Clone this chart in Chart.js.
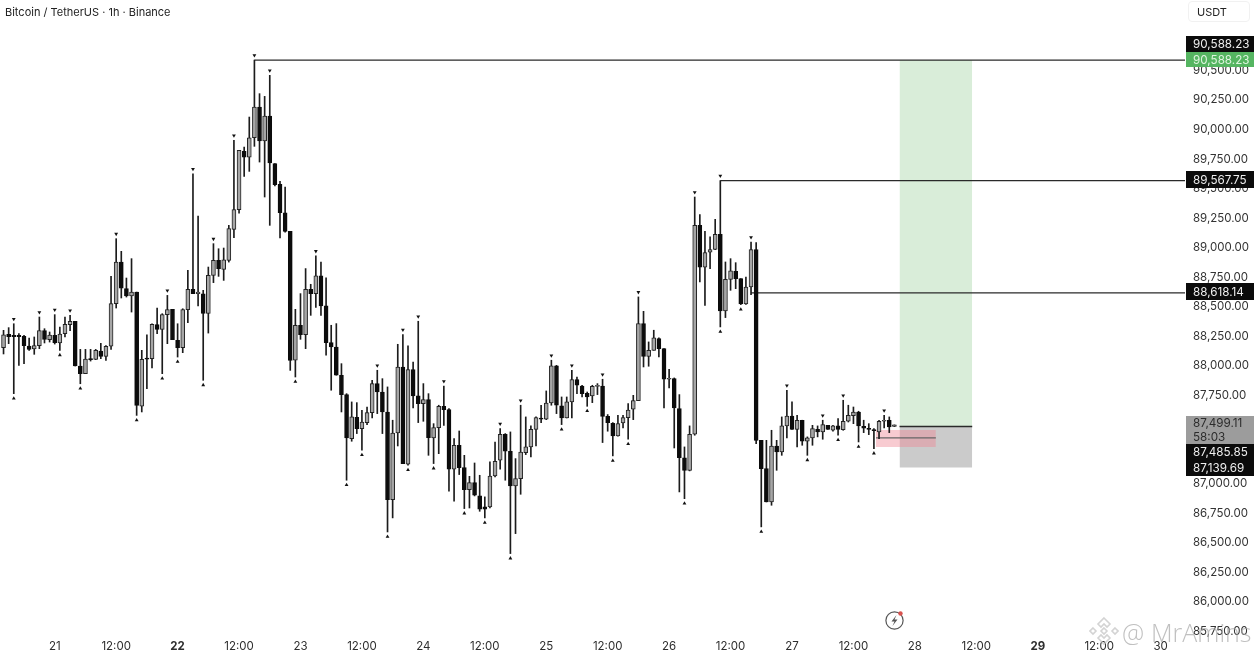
<!DOCTYPE html>
<html><head><meta charset="utf-8">
<style>
html,body{margin:0;padding:0;background:#fff;width:1258px;height:656px;overflow:hidden}
#wrap{position:relative;width:1258px;height:656px}
canvas{position:absolute;left:0;top:0}
.t{position:absolute;font-family:Inter,Roboto,sans-serif;color:#222;white-space:nowrap}
</style>
<script src="https://cdn.jsdelivr.net/npm/chart.js@4"></script>
</head><body>
<div id="wrap">
<canvas id="c" width="1258" height="656"></canvas>
<div class="t" style="left:5px;top:5px;font-size:11px;line-height:14px">Bitcoin / TetherUS · 1h · Binance</div>
<div class="t" style="left:1188px;top:1px;width:62px;height:21px;border:1px solid #f1f1f1;border-radius:4px;box-sizing:border-box;font-size:11px;line-height:20px;padding-left:8px">USDT</div>
<svg style="position:absolute;left:883px;top:608px" width="24" height="24" viewBox="0 0 24 24">
<circle cx="11.5" cy="12.5" r="8.6" fill="none" stroke="#555" stroke-width="1.2"/>
<path d="M13.5 7 L8.5 13.5 H11.5 L9.5 18 L14.5 11.5 H11.5 Z" fill="#555"/>
<circle cx="17.5" cy="5.5" r="2.2" fill="#d9534f"/>
</svg>
<svg style="position:absolute;left:1089px;top:616px" width="30" height="30" viewBox="0 0 30 30" fill="none" stroke="#c9c9c9" stroke-width="1.6" opacity=".8">
<path d="M15 2 L21 8 L18 11 L15 8 L12 11 L9 8 Z"/><path d="M4 12 L7 15 L4 18 L1 15 Z"/><path d="M26 12 L29 15 L26 18 L23 15 Z"/><path d="M15 12 L18 15 L15 18 L12 15 Z"/><path d="M15 28 L21 22 L18 19 L15 22 L12 19 L9 22 Z"/>
</svg>
<div class="t" style="left:1122px;top:612px;font-family:'Open Sans';font-weight:300;font-size:25px;line-height:40px;color:rgba(165,165,165,.7)">@</div>
<div class="t" style="left:1151px;top:612px;font-family:'Open Sans';font-weight:300;font-size:25px;line-height:40px;color:rgba(165,165,165,.7)">MrAmins</div>
</div>
<script>
const opens=[88153,88266,88258,88258,88249,88167,88142,88170,88297,88221,
88258,88193,88272,88348,88376,87998,87933,88060,88054,88125,
88080,88165,88526,88878,88653,88591,88624,87659,88066,88060,
88348,88308,88433,88478,88215,88153,88475,88647,88610,88610,
88444,88766,88893,88816,88893,89155,89322,89815,89767,89931,
90191,89903,90115,89711,89536,89296,89138,88047,88343,88264,
88648,88611,88761,88507,88196,88159,87920,87756,87383,87564,
87468,87519,87603,87849,87778,87609,86867,87431,87990,87166,
87968,87745,87680,87714,87389,87476,87657,87629,87124,87327,
87138,86952,87011,86898,86805,86805,87067,87200,87420,87276,
86983,87045,87265,87313,87462,87558,87547,87685,87999,87660,
87558,87694,87883,87829,87767,87745,87826,87829,87572,87513,
87406,87516,87561,87632,87705,88357,88080,88131,88230,88145,
87886,87891,87637,87220,87115,87420,89189,88834,88961,88986,
89113,88464,88732,88800,88738,88523,88667,88983,87369,87129,
86847,87321,87271,87491,87575,87462,87539,87361,87389,87462,
87440,87496,87454,87491,87460,87530,87578,87609,87488,87468,
87460,87440,87530,87539,87485.85];
const closes=[88263,88246,88246,88246,88170,88139,88170,88297,88224,88260,
88196,88269,88351,88376,87998,87933,88057,88052,88131,88080,
88165,88526,88878,88658,88591,88624,87665,88054,88057,88351,
88308,88433,88475,88221,88153,88475,88647,88610,88624,88444,
88766,88893,88822,88898,89161,89322,89824,89767,89931,90191,
89903,90115,89717,89533,89296,89138,88046,88343,88264,88648,
88611,88761,88507,88196,88159,87920,87756,87389,87567,87468,
87524,87603,87849,87778,87609,86867,87431,87990,87172,87968,
87745,87680,87714,87392,87476,87657,87629,87124,87327,87138,
86952,87011,86904,86785,86785,87067,87191,87420,87276,86983,
87045,87270,87313,87462,87561,87547,87685,87999,87666,87558,
87694,87883,87835,87764,87736,87826,87835,87572,87519,87406,
87510,87561,87626,87705,88357,88080,88131,88236,88145,87886,
87891,87643,87223,87115,87420,89189,88834,88958,88983,89113,
88464,88732,88803,88738,88523,88667,88983,87369,87129,86847,
87321,87271,87491,87575,87462,87539,87361,87389,87468,87440,
87502,87462,87491,87462,87530,87581,87609,87491,87471,87462,
87451,87530,87539,87482,87499.11];
const highs=[88300,88323,88356,88272,88258,88235,88244,88413,88314,88286,
88433,88328,88413,88427,88376,88139,88139,88139,88139,88190,
88170,88757,89076,88969,88743,88907,88624,88131,88263,88356,
88489,88441,88596,88478,88356,88483,88808,89626,89268,88639,
88836,89034,88991,88997,89189,89909,89824,89852,90106,90588.23,
90304,90281,90459,89711,89561,89513,89138,88478,88611,88823,
88690,88930,88879,88744,88343,88357,88018,87764,87694,87688,
87623,87651,87877,87962,87891,87821,87539,88182,88264,88168,
88032,88377,87849,87764,87510,87666,87829,87637,87383,87448,
87242,87064,87177,87073,86890,87186,87355,87468,87426,87440,
87214,87666,87567,87491,87567,87666,87787,88047,88004,87736,
87736,87962,87905,87835,87778,87835,87849,87886,87587,87519,
87581,87581,87680,87750,88583,88461,88202,88301,88236,88145,
87970,87897,87756,87313,87491,89429,89280,89139,89091,89240,
89567.75,88879,88907,88873,88738,88752,89048,89043,87369,87369,
87454,87369,87567,87793,87694,87581,87539,87398,87496,87491,
87539,87496,87496,87553,87708,87666,87651,87615,87539,87510,
87468,87539,87581,87567,87499.11];
const lows=[88100,88187,87764,88004,88018,88131,88097,88145,88193,88201,
88184,88131,88244,88297,87998,87848,87933,88040,88052,88060,
88046,88139,88489,88574,88582,88455,87580,87609,87806,87981,
88272,87933,88187,88221,88074,88111,88365,88610,88506,87877,
88277,88704,88757,88723,88878,89084,89293,89604,89646,89858,
89725,89429,89189,89522,89082,89132,87961,87905,88224,88145,
88427,88495,88427,88089,87793,87920,87609,87031,87361,87426,
87285,87502,87558,87595,87426,86593,86712,87321,87172,87158,
87643,87519,87530,87242,87172,87256,87496,86938,86853,87079,
86791,86796,86898,86768,86712,86796,87059,87124,87031,86410,
86579,86912,87248,87228,87321,87519,87544,87666,87595,87502,
87558,87558,87764,87736,87657,87688,87756,87350,87446,87237,
87403,87474,87378,87544,87705,87990,87996,88131,88075,87643,
87812,87304,86932,86875,87110,87412,88710,88512,88823,88983,
88329,88408,88639,88653,88518,88520,88603,87341,86636,86847,
86819,87115,87242,87389,87462,87313,87327,87242,87327,87398,
87378,87462,87446,87412,87454,87524,87510,87355,87434,87417,
87299,87383,87474,87434,87485.85];
// candle hour offsets, measured from 21st 00:00
const firstHour=-10;
const pivotHighIdx=[2,7,10,13,22,32,37,41,45,49,52,61,73,78,81,86,97,101,107,111,117,124,135,140,146,153,160,164,172];
const pivotLowIdx=[2,11,15,26,31,34,39,57,67,70,75,79,84,90,94,99,109,114,119,122,133,140,144,148,157,163,167,170];
const xTickHours=[0,12,24,36,48,60,72,84,96,108,120,132,144,156,168,180,192,204,216];
const xTickLabels=['21','12:00','22','12:00','23','12:00','24','12:00','25','12:00','26','12:00','27','12:00','28','12:00','29','12:00','30'];
const boldTicks=['22','29'];
const yTicks=[85750,86000,86250,86500,86750,87000,87250,87500,87750,88000,88250,88500,88750,89000,89250,89500,89750,90000,90250,90500];
const level1=90588.23, level2=89567.75, level3=88618.14, lastPrice=87499.11, entry=87485.85, stop=87139.69;
const priceLabels=[
 {v:level1,text:['90,588.23'],bg:'#0b0b0b',fg:'#eeeeee',top:36,h:16},
 {v:level1,text:['90,588.23'],bg:'#55b561',fg:'#dff5df',top:52,h:15},
 {v:level2,text:['89,567.75'],bg:'#0b0b0b',fg:'#eeeeee',top:171,h:17},
 {v:level3,text:['88,618.14'],bg:'#0b0b0b',fg:'#eeeeee',top:283,h:17},
 {v:lastPrice,text:['87,499.11','58:03'],bg:'#9c9c9c',fg:'#2c2c2c',top:416,h:28},
 {v:entry,text:['87,485.85'],bg:'#0b0b0b',fg:'#eeeeee',top:444,h:16},
 {v:stop,text:['87,139.69'],bg:'#0b0b0b',fg:'#eeeeee',top:460,h:16}
];
const font='Inter, Roboto, sans-serif';
const hrs=opens.map((_,i)=>firstHour+i);
const up=opens.map((o,i)=>closes[i]>=o);
const gap=40;
const bodyData=hrs.map((x,i)=>({x,y:[Math.min(opens[i],closes[i]),Math.max(opens[i],closes[i])]}));
const wickData=hrs.map((x,i)=>({x,y:[lows[i],highs[i]]}));
const flat=(a,b,y)=>[{x:a,y},{x:b,y}];
const zone=(a,b,y,lo,color,order)=>({type:'line',data:flat(a,b,y),borderWidth:0,pointRadius:0,fill:{value:lo},backgroundColor:color,order});
const seg=(a,b,y,order,color)=>({type:'line',data:flat(a,b,y),borderColor:color||'#2a2a2a',borderWidth:1.3,pointRadius:0,fill:false,order});
const labelPlugin={id:'priceLabels',afterDraw(ch){
 const c=ch.ctx;c.save();
 c.textBaseline='middle';c.font='11.7px '+font;c.textAlign='left';
 priceLabels.forEach(l=>{
  c.fillStyle=l.bg;c.fillRect(1186,l.top,68,l.h);
  c.fillStyle=l.fg;
  const lh=l.h/l.text.length;
  l.text.forEach((t,i)=>c.fillText(t,1193,l.top+lh*(i+.5)+.5));
 });
 c.restore();
}};
new Chart(document.getElementById('c'),{
 data:{datasets:[
  zone(165,179.2,level1,entry,'#d9edd9',9),
  zone(165,179.2,entry,stop,'#cbcbcb',8),
  zone(160.4,172.1,87456,87312,'rgba(238,130,145,.42)',7),
  seg(165,179.2,entry,6),
  seg(160.4,172.1,87389,6,'#666'),
  seg(39,221,level1,6),
  seg(130,221,level2,6),
  seg(136,221,level3,6),
  {type:'bar',grouped:false,data:wickData,barThickness:1,backgroundColor:'#1c1c1c',borderWidth:0,order:4},
  {type:'bar',grouped:false,data:bodyData,barThickness:4,minBarLength:1,
   backgroundColor:up.map(u=>u?'#a6a6a6':'#0c0c0c'),borderColor:up.map(u=>u?'#222':'#0c0c0c'),borderWidth:1,borderSkipped:false,order:3},
  {type:'line',showLine:false,data:pivotHighIdx.map(i=>({x:hrs[i],y:highs[i]+gap})),pointStyle:'triangle',pointRadius:2.2,pointRotation:180,pointBackgroundColor:'#111',pointBorderWidth:0,order:1},
  {type:'line',showLine:false,data:pivotLowIdx.map(i=>({x:hrs[i],y:lows[i]-gap})),pointStyle:'triangle',pointRadius:2.2,pointBackgroundColor:'#111',pointBorderWidth:0,order:1}
 ]},
 options:{
  responsive:false,animation:false,devicePixelRatio:1,
  layout:{padding:0,autoPadding:false},
  plugins:{legend:{display:false},tooltip:{enabled:false}},
  scales:{
   x:{type:'linear',min:-10.69,max:220.76,offset:false,
    grid:{display:false},border:{display:false},
    afterFit:s=>{s.height=24;s.paddingLeft=0;s.paddingRight=0},
    afterBuildTicks:s=>{s.ticks=xTickHours.map(value=>({value}))},
    ticks:{autoSkip:false,maxRotation:0,padding:0,color:'#2e2e2e',
     font:c=>({family:font,size:11.5,weight:boldTicks.includes(xTickLabels[c.index])?'bold':'normal'}),
     callback:(v,i)=>xTickLabels[i]}},
   y:{type:'linear',position:'right',min:85746,max:91097,
    grid:{display:false},border:{display:false},
    afterFit:s=>{s.width=73;s.paddingTop=0;s.paddingBottom=0},
    afterBuildTicks:s=>{s.ticks=yTicks.map(value=>({value}))},
    ticks:{autoSkip:false,padding:0,color:'#333',crossAlign:'near',font:{family:font,size:11.5},
     callback:v=>v.toLocaleString('en-US',{minimumFractionDigits:2,maximumFractionDigits:2})}}
  }
 },
 plugins:[labelPlugin]
});
</script>
</body></html>
